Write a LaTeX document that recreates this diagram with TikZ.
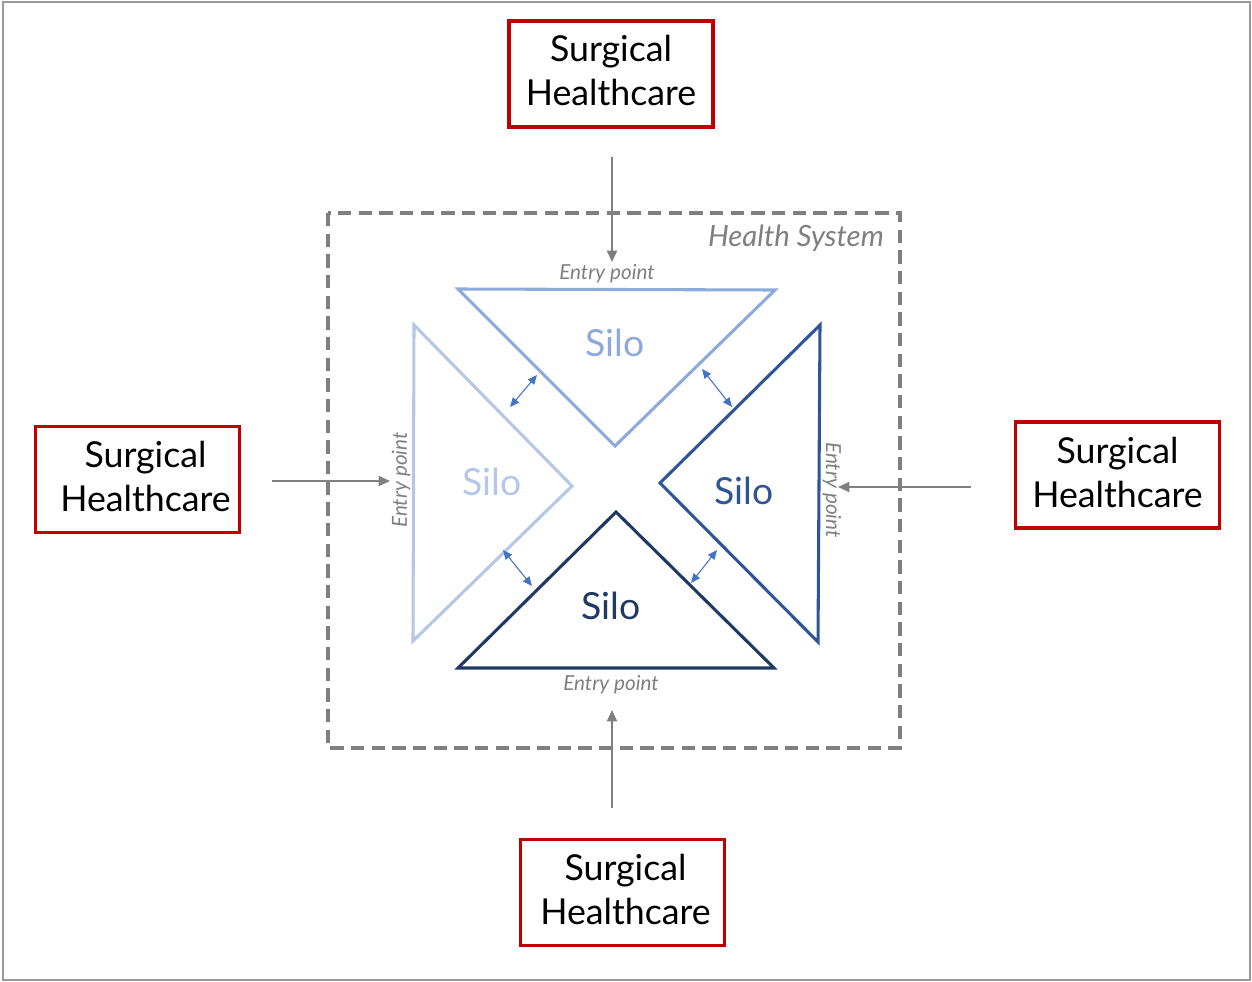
\documentclass[tikz,border=0pt]{standalone}
\usepackage{fontspec}
\setmainfont{Lato}
\usetikzlibrary{arrows.meta}
\definecolor{boxred}{HTML}{C00000}
\definecolor{midgray}{HTML}{7F7F7F}
\definecolor{siloA}{HTML}{8EA9DB}
\definecolor{siloB}{HTML}{B4C7E7}
\definecolor{siloC}{HTML}{2F5597}
\definecolor{siloD}{HTML}{203864}
\definecolor{linkblue}{HTML}{4472C4}
\tikzset{
  hcbox/.style={draw=boxred, line width=2.4pt, minimum width=153pt, minimum height=79.5pt, inner sep=0pt},
  hctext/.style={align=center, font=\fontsize{26.8}{33}\selectfont, text=black},
  feed/.style={draw=midgray, line width=1.6pt, -{Triangle[length=8.5pt,width=7.5pt]}},
  tri/.style={line width=2.3pt, line join=miter},
  silotext/.style={font=\fontsize{28}{32}\selectfont},
  entry/.style={font=\fontsize{15.5}{18}\selectfont\itshape, text=midgray, inner sep=0pt},
  link/.style={draw=linkblue, line width=0.8pt, {Triangle[length=7pt,width=6pt]}-{Triangle[length=7pt,width=6pt]}},
  sysframe/.style={draw=midgray, line width=2.3pt, dash pattern=on 10pt off 5.5pt}
}
\begin{document}
\begin{tikzpicture}[x=0.75pt,y=-0.75pt]
\useasboundingbox (0,0) rectangle (1252,981);
\draw[draw=midgray!80, line width=0.9pt] (3,2) rectangle (1250,980);

% health system frame
\draw[sysframe] (328,213) rectangle (900,748);
\node[font=\fontsize{22}{26}\selectfont\itshape, text=midgray, anchor=east, inner sep=0pt] (hs) at (884,238) {Health System};

% silos
\coordinate (A1) at (458,289); \coordinate (A2) at (775,290); \coordinate (A3) at (615,446);
\coordinate (B1) at (414,325); \coordinate (B2) at (572,486); \coordinate (B3) at (413,641);
\coordinate (C1) at (820,325); \coordinate (C2) at (818,642); \coordinate (C3) at (660,483);
\coordinate (D1) at (458,668); \coordinate (D2) at (774,668); \coordinate (D3) at (616,512);
\draw[tri, draw=siloA] (A1) -- (A2) -- (A3) -- cycle;
\draw[tri, draw=siloB] (B1) -- (B2) -- (B3) -- cycle;
\draw[tri, draw=siloC] (C1) -- (C2) -- (C3) -- cycle;
\draw[tri, draw=siloD] (D1) -- (D2) -- (D3) -- cycle;
\node[silotext, text=siloA] (sA) at (615,343) {Silo};
\node[silotext, text=siloB] (sB) at (492,482) {Silo};
\node[silotext, text=siloC] (sC) at (744,491) {Silo};
\node[silotext, text=siloD] (sD) at (611,606) {Silo};

% entry labels
\node[entry] (eA) at (607,274) {Entry point};
\node[entry, rotate=90] (eB) at (401,480) {Entry point};
\node[entry, rotate=-90] (eC) at (832,490) {Entry point};
\node[entry] (eD) at (611,685) {Entry point};

% links between silos
\coordinate (L1a) at (510,407); \coordinate (L1b) at (537,375);
\coordinate (L2a) at (503,550); \coordinate (L2b) at (532,586);
\coordinate (L3a) at (702,369); \coordinate (L3b) at (732,407);
\coordinate (L4a) at (717,550); \coordinate (L4b) at (691,583);
\draw[link] (L1a) -- (L1b);
\draw[link] (L2a) -- (L2b);
\draw[link] (L3a) -- (L3b);
\draw[link] (L4a) -- (L4b);

% surgical healthcare boxes
\node[hcbox] (top) at (611,74) {};
\node[hctext] (topt) at (611,70) {Surgical\\Healthcare};
\node[hcbox] (left) at (137.5,479.5) {};
\node[hctext] (leftt) at (145.5,476) {Surgical\\Healthcare};
\node[hcbox] (right) at (1117.5,475) {};
\node[hctext] (rightt) at (1117.5,472) {Surgical\\Healthcare};
\node[hcbox] (bottom) at (622.5,892.5) {};
\node[hctext] (bottomt) at (625.5,889) {Surgical\\Healthcare};

% feeds into entry points
\coordinate (inA) at (612,262);
\coordinate (inB) at (390,481);
\coordinate (inC) at (838,487);
\coordinate (inD) at (612,710);
\draw[feed, shorten <=21pt] (inA |- top.south) -- (inA);
\draw[feed, shorten <=23pt] (inB -| left.east) -- (inB);
\draw[feed, shorten <=32pt] (inC -| right.west) -- (inC);
\draw[feed, shorten <=22.5pt] (inD |- bottom.north) -- (inD);
\end{tikzpicture}
\end{document}
